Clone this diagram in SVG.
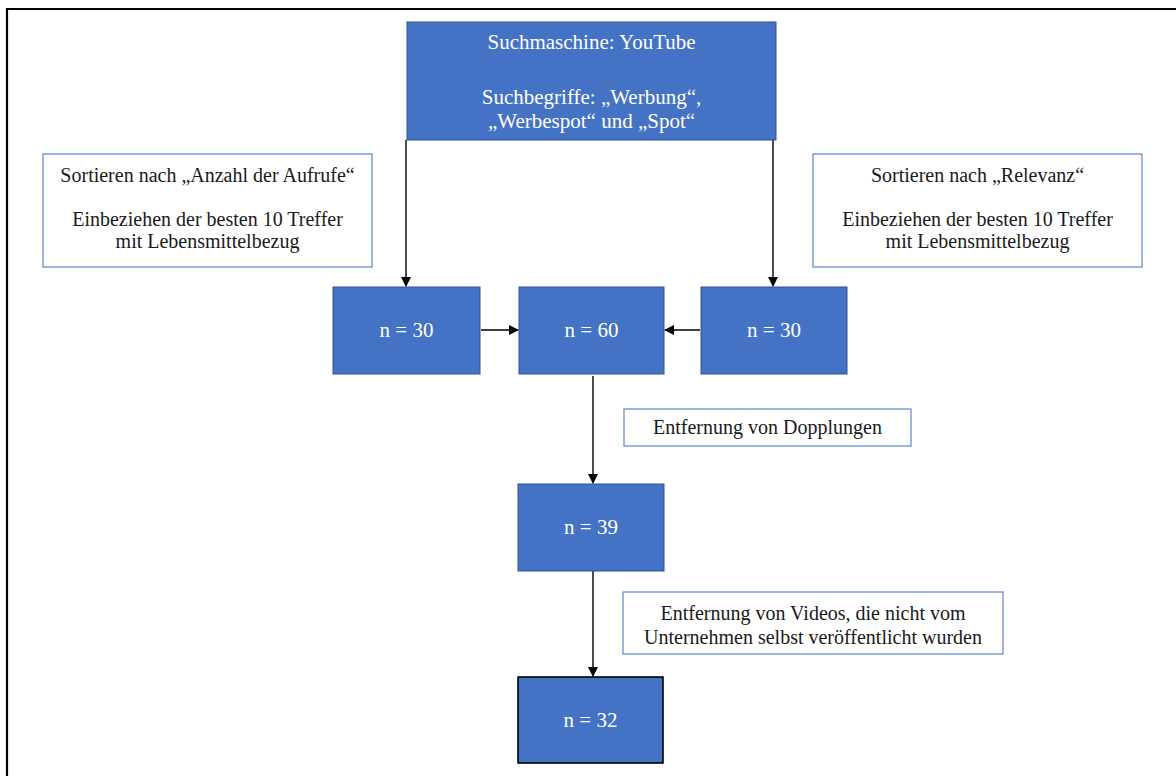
<svg xmlns="http://www.w3.org/2000/svg" width="1176" height="776" viewBox="0 0 1176 776">
<style>
.blue{fill:#4472C4;stroke:#2F528F;stroke-width:1}
.note{fill:#ffffff;stroke:#5B84D0;stroke-width:1.2}
.wt{font-family:"Liberation Serif","Times New Roman",serif;font-size:20px;fill:#ffffff;text-anchor:middle}
.big{font-size:21px}
.bt{font-family:"Liberation Serif","Times New Roman",serif;font-size:20px;fill:#1a1a1a;text-anchor:middle}
.con{stroke:#000000;stroke-width:1.4;fill:none;marker-end:url(#ah)}
</style>
<defs>
<marker id="ah" markerWidth="10" markerHeight="10" refX="9" refY="5" orient="auto" markerUnits="userSpaceOnUse">
<path d="M0,0 L10,5 L0,10 Z" fill="#000000"/>
</marker>
</defs>
<rect x="0" y="0" width="1176" height="776" fill="#ffffff"/>
<g id="frame">
<line x1="7" y1="9" x2="1176" y2="9" stroke="#000000" stroke-width="2.2"/>
<line x1="7" y1="8" x2="7" y2="776" stroke="#000000" stroke-width="2.2"/>
</g>
<g id="connectors">
<line class="con" x1="406" y1="140" x2="406" y2="286"/>
<line class="con" x1="773" y1="140" x2="773" y2="286"/>
<line class="con" x1="481" y1="330" x2="518" y2="330"/>
<line class="con" x1="700" y1="330" x2="665" y2="330"/>
<line class="con" x1="593" y1="376" x2="593" y2="483"/>
<line class="con" x1="593" y1="571" x2="593" y2="676"/>
</g>
<g id="search">
<rect class="blue" x="407" y="22" width="369" height="118"/>
<text class="wt big" x="591.5" y="49">Suchmaschine: YouTube</text>
<text class="wt big" x="591.5" y="104">Suchbegriffe: „Werbung“,</text>
<text class="wt big" x="591.5" y="128">„Werbespot“ und „Spot“</text>
</g>
<g id="sort-views">
<rect class="note" x="43" y="154" width="329" height="113"/>
<text class="bt" x="207.5" y="182">Sortieren nach „Anzahl der Aufrufe“</text>
<text class="bt" x="207.5" y="226">Einbeziehen der besten 10 Treffer</text>
<text class="bt" x="207.5" y="248">mit Lebensmittelbezug</text>
</g>
<g id="sort-relevance">
<rect class="note" x="813" y="154" width="329" height="113"/>
<text class="bt" x="977.5" y="182">Sortieren nach „Relevanz“</text>
<text class="bt" x="977.5" y="226">Einbeziehen der besten 10 Treffer</text>
<text class="bt" x="977.5" y="248">mit Lebensmittelbezug</text>
</g>
<g id="n30-left">
<rect class="blue" x="333" y="287" width="147" height="87"/>
<text class="wt big" x="406.5" y="337">n = 30</text>
</g>
<g id="n60">
<rect class="blue" x="519" y="287" width="145" height="87"/>
<text class="wt big" x="591.5" y="337">n = 60</text>
</g>
<g id="n30-right">
<rect class="blue" x="701" y="287" width="146" height="87"/>
<text class="wt big" x="774" y="337">n = 30</text>
</g>
<g id="dedupe">
<rect class="note" x="624" y="409" width="287" height="37"/>
<text class="bt" x="767.5" y="434">Entfernung von Dopplungen</text>
</g>
<g id="n39">
<rect class="blue" x="518" y="484" width="146" height="87"/>
<text class="wt big" x="591" y="534">n = 39</text>
</g>
<g id="filter">
<rect class="note" x="623" y="592" width="380" height="62"/>
<text class="bt" x="813" y="620">Entfernung von Videos, die nicht vom</text>
<text class="bt" x="813" y="644">Unternehmen selbst veröffentlicht wurden</text>
</g>
<g id="n32">
<rect x="518" y="677" width="145" height="86" fill="#4472C4" stroke="#000000" stroke-width="1.6"/>
<text class="wt big" x="590.5" y="727">n = 32</text>
</g>
</svg>
